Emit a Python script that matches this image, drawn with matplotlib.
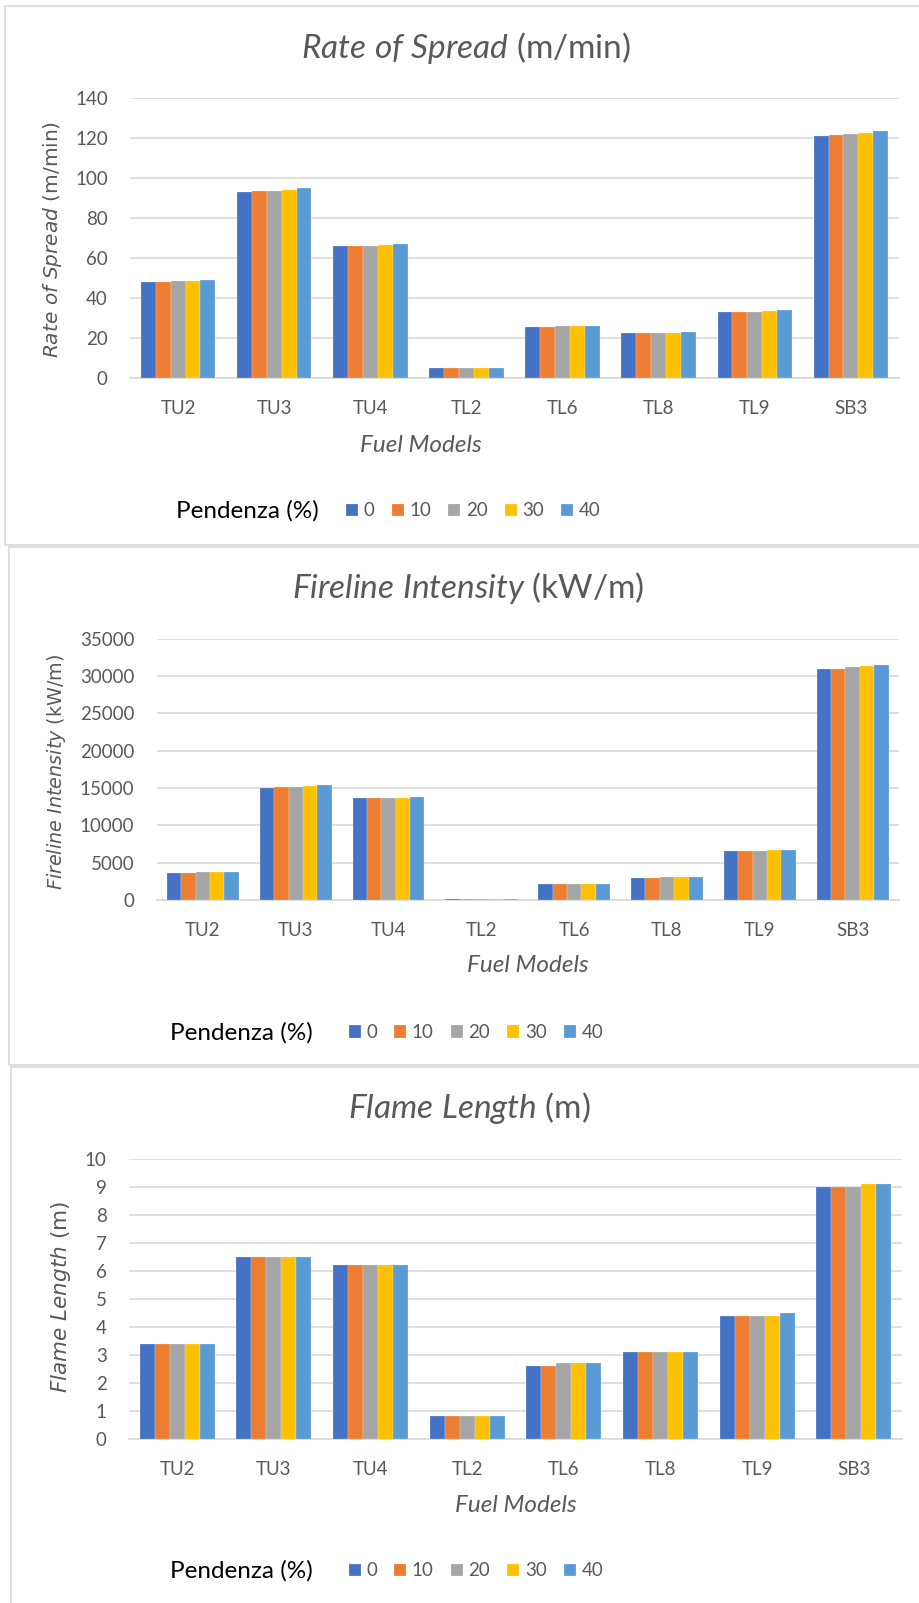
import numpy as np
import matplotlib
matplotlib.use("Agg")
import matplotlib.pyplot as plt
from matplotlib.patches import Rectangle

# fuel models and slope classes
categories = ["TU2", "TU3", "TU4", "TL2", "TL6", "TL8", "TL9", "SB3"]
slopes = ["0", "10", "20", "30", "40"]
colors = ["#4472C4", "#ED7D31", "#A5A5A5", "#FFC000", "#5B9BD5"]

# Rate of spread (m/min), one row per slope
ros_values = [
    [48.0, 93.0, 65.8, 5.0, 25.6, 22.3, 32.9, 121.2],
    [48.2, 93.3, 65.8, 5.0, 25.6, 22.5, 32.9, 121.6],
    [48.3, 93.8, 66.2, 5.1, 25.9, 22.7, 33.1, 121.9],
    [48.7, 94.3, 66.5, 5.1, 25.9, 22.7, 33.4, 122.7],
    [49.2, 95.2, 66.8, 5.2, 26.1, 22.9, 33.8, 123.7],
]

# Fireline intensity (kW/m)
fli_values = [
    [3670, 15040, 13670, 120, 2130, 2980, 6570, 30950],
    [3670, 15090, 13670, 125, 2130, 2980, 6570, 30950],
    [3710, 15130, 13670, 130, 2130, 3020, 6620, 31120],
    [3710, 15270, 13710, 135, 2180, 3020, 6660, 31300],
    [3800, 15440, 13800, 140, 2180, 3060, 6750, 31520],
]

# Flame length (m)
fl_values = [
    [3.4, 6.5, 6.2, 0.8, 2.6, 3.1, 4.4, 9.0],
    [3.4, 6.5, 6.2, 0.8, 2.6, 3.1, 4.4, 9.0],
    [3.4, 6.5, 6.2, 0.8, 2.7, 3.1, 4.4, 9.0],
    [3.4, 6.5, 6.2, 0.8, 2.7, 3.1, 4.4, 9.1],
    [3.4, 6.5, 6.2, 0.8, 2.7, 3.1, 4.5, 9.1],
]

plt.rcParams["font.family"] = ["Lato", "DejaVu Sans"]
plt.rcParams["mathtext.fontset"] = "custom"
plt.rcParams["mathtext.rm"] = "Lato"
plt.rcParams["mathtext.it"] = "Lato:italic"

W, H = 919, 1603
GREY = "#595959"
GRID = "#D9D9D9"

fig = plt.figure(figsize=(W / 100, H / 100), dpi=100)


def fx(px):
    return px / W


def fy(py):
    return 1 - py / H


# layout of each panel in pixels
panels = [
    dict(values=ros_values, ylim=140, step=20,
         title=r"$\it{Rate\ of\ Spread}$ (m/min)",
         ylabel=r"$\it{Rate\ of\ Spread}$ (m/min)",
         box=(4.7, 6, 545), ax=(130, 98.2, 899, 377.9),
         title_xy=(466.5, 48), ylab_xy=(53, 239), ylab_size=14.5,
         xlab_xy=(421, 445), leg_text_x=176, leg_x=346, leg_y=511),
    dict(values=fli_values, ylim=35000, step=5000,
         title=r"$\it{Fireline\ Intensity}$ (kW/m)",
         ylabel=r"$\it{Fireline\ Intensity}$ (kW/m)",
         box=(9, 546.7, 1065), ax=(156.5, 638.5, 899, 900),
         title_xy=(468, 588), ylab_xy=(57, 772), ylab_size=13.8,
         xlab_xy=(527.5, 966), leg_text_x=170, leg_x=348.5, leg_y=1032.5),
    dict(values=fl_values, ylim=10, step=1,
         title=r"$\it{Flame\ Length}$ (m)",
         ylabel=r"$\it{Flame\ Length}$ (m)",
         box=(11.3, 1066.7, 1700), ax=(129, 1159, 902, 1438.7),
         title_xy=(469, 1108), ylab_xy=(61.5, 1297), ylab_size=15.5,
         xlab_xy=(516, 1505), leg_text_x=170, leg_x=348.5, leg_y=1571),
]

x = np.arange(len(categories))
bar_w = 0.155

for p in panels:
    # light grey frame around each chart
    bx, btop, bbot = p["box"]
    fig.patches.append(Rectangle((fx(bx), fy(bbot)), fx(W + 50 - bx), (bbot - btop) / H,
                                 transform=fig.transFigure, fill=False,
                                 edgecolor=GRID, linewidth=1.2))

    l, t, r, b = p["ax"]
    ax = fig.add_axes([fx(l), fy(b), fx(r - l), (b - t) / H])
    handles = []
    for j, s in enumerate(slopes):
        bars = ax.bar(x + (j - 2) * bar_w, p["values"][j], bar_w, color=colors[j],
                      edgecolor="#FFFFFF80", linewidth=0.3, zorder=3, label=s)
        handles.append(bars)

    ax.set_xlim(-0.5, len(categories) - 0.5)
    ax.set_ylim(0, p["ylim"])
    ax.set_yticks(np.arange(0, p["ylim"] + p["step"] / 2, p["step"]))
    ax.set_xticks(x)
    ax.set_xticklabels(categories)
    ax.yaxis.grid(True, color=GRID, linewidth=1.2, zorder=0)
    ax.set_axisbelow(True)
    for side in ["top", "right", "left"]:
        ax.spines[side].set_visible(False)
    ax.spines["bottom"].set_color(GRID)
    ax.spines["bottom"].set_linewidth(1.2)
    ax.tick_params(axis="both", length=0, labelsize=13.5, labelcolor=GREY)
    ax.tick_params(axis="y", pad=16)
    ax.tick_params(axis="x", pad=16)

    fig.text(fx(p["title_xy"][0]), fy(p["title_xy"][1]), p["title"],
             ha="center", va="center", fontsize=24, color=GREY)
    fig.text(fx(p["ylab_xy"][0]), fy(p["ylab_xy"][1]), p["ylabel"],
             ha="center", va="center", rotation=90, fontsize=p["ylab_size"],
             color=GREY, family="DejaVu Sans", math_fontfamily="dejavusans")
    fig.text(fx(p["xlab_xy"][0]), fy(p["xlab_xy"][1]), "Fuel Models",
             ha="center", va="center", fontsize=17.5, style="italic", color=GREY)

    fig.text(fx(p["leg_text_x"]), fy(p["leg_y"]), "Pendenza (%)",
             ha="left", va="center", fontsize=17.5, color="black")
    ax.legend(handles, slopes, ncol=5, loc="center left",
              bbox_to_anchor=(fx(p["leg_x"]), fy(p["leg_y"])),
              bbox_transform=fig.transFigure, frameon=False,
              handlelength=0.65, handleheight=0.65, handletextpad=0.3,
              columnspacing=0.9, borderpad=0, borderaxespad=0,
              fontsize=13.5, labelcolor=GREY)

fig.savefig("out.png", dpi=100, facecolor="white")
